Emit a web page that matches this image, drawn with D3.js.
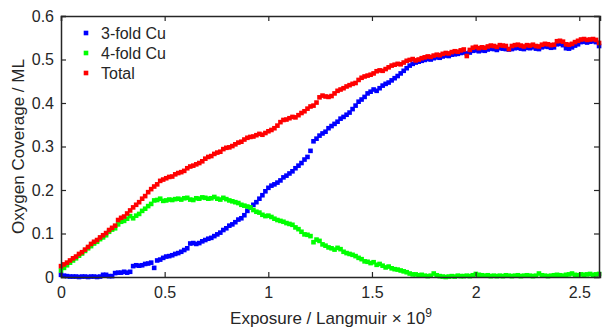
<!DOCTYPE html>
<html>
<head>
<meta charset="utf-8">
<script src="https://cdn.jsdelivr.net/npm/d3@7"></script>
<style>
  body { margin: 0; background: #fff; }
  svg text { font-family: "Liberation Sans", Arial, sans-serif; fill: #262626; }
</style>
</head>
<body>
<div id="chart"></div>
<script>
// exposure grid step (units of 10^9 L)
const step = 0.0145;

const threeFold = [
  0.005, 0.003, 0.002, 0.001, 0.001, 0.001, 0.000, 0.001, 0.001, 0.000,
  0.001, 0.001, 0.000, 0.001, 0.005, 0.005, 0.002, 0.002, 0.009, 0.010,
  0.010, 0.012, 0.010, 0.012, 0.025, 0.027, 0.026, 0.027, 0.030, 0.031,
  0.033, 0.021, 0.038, 0.040, 0.044, 0.047, 0.048, 0.050, 0.053, 0.055,
  0.058, 0.062, 0.066, 0.077, 0.078, 0.076, 0.078, 0.082, 0.085, 0.088,
  0.090, 0.094, 0.098, 0.102, 0.108, 0.112, 0.118, 0.121, 0.126, 0.132,
  0.135, 0.142, 0.152, 0.160, 0.166, 0.172, 0.180, 0.188, 0.197, 0.205,
  0.210, 0.213, 0.217, 0.222, 0.229, 0.233, 0.238, 0.243, 0.250, 0.256,
  0.262, 0.270, 0.276, 0.290, 0.312, 0.318, 0.325, 0.330, 0.334, 0.342,
  0.347, 0.352, 0.357, 0.364, 0.368, 0.373, 0.378, 0.386, 0.394, 0.403,
  0.408, 0.414, 0.422, 0.426, 0.431, 0.428, 0.434, 0.440, 0.444, 0.447,
  0.452, 0.457, 0.462, 0.468, 0.474, 0.480, 0.486, 0.490, 0.493, 0.495,
  0.497, 0.499, 0.501, 0.500, 0.503, 0.505, 0.504, 0.507, 0.509, 0.508,
  0.511, 0.512, 0.513, 0.515, 0.516, 0.514, 0.516, 0.520, 0.521, 0.519,
  0.521, 0.520, 0.523, 0.525, 0.524, 0.522, 0.526, 0.525, 0.524, 0.523,
  0.524, 0.526, 0.527, 0.525, 0.524, 0.527, 0.526, 0.528, 0.525, 0.524,
  0.528, 0.530, 0.529, 0.527, 0.528, 0.535, 0.536, 0.533, 0.526, 0.525,
  0.528, 0.532, 0.535, 0.540, 0.541, 0.539, 0.541, 0.542, 0.540, 0.531
];

const fourFold = [
  0.015, 0.021, 0.027, 0.033, 0.038, 0.043, 0.049, 0.054, 0.060, 0.066,
  0.071, 0.077, 0.081, 0.087, 0.091, 0.096, 0.104, 0.109, 0.112, 0.121,
  0.127, 0.129, 0.134, 0.140, 0.135, 0.141, 0.145, 0.152, 0.157, 0.163,
  0.168, 0.176, 0.177, 0.180, 0.175, 0.176, 0.178, 0.177, 0.179, 0.180,
  0.178, 0.181, 0.182, 0.178, 0.177, 0.181, 0.180, 0.183, 0.182, 0.180,
  0.181, 0.184, 0.180, 0.178, 0.182, 0.179, 0.176, 0.174, 0.172, 0.170,
  0.166, 0.164, 0.162, 0.160, 0.154, 0.150, 0.148, 0.143, 0.140, 0.141,
  0.138, 0.134, 0.131, 0.129, 0.127, 0.124, 0.122, 0.120, 0.114, 0.110,
  0.104, 0.098, 0.097, 0.094, 0.080, 0.086, 0.083, 0.075, 0.072, 0.068,
  0.066, 0.063, 0.067, 0.064, 0.058, 0.055, 0.053, 0.051, 0.048, 0.044,
  0.041, 0.036, 0.035, 0.032, 0.034, 0.028, 0.030, 0.026, 0.022, 0.024,
  0.020, 0.018, 0.017, 0.015, 0.013, 0.011, 0.008, 0.006, 0.006, 0.004,
  0.005, 0.003, 0.002, 0.003, 0.008, 0.004, 0.002, 0.001, 0.000, 0.001,
  0.002, 0.001, 0.003, 0.002, 0.002, 0.003, 0.002, 0.004, 0.007, 0.005,
  0.004, 0.003, 0.004, 0.002, 0.003, 0.002, 0.003, 0.002, 0.004, 0.003,
  0.002, 0.003, 0.004, 0.002, 0.003, 0.004, 0.003, 0.002, 0.003, 0.008,
  0.004, 0.003, 0.002, 0.003, 0.004, 0.005, 0.004, 0.003, 0.005, 0.006,
  0.008, 0.005, 0.004, 0.006, 0.005, 0.006, 0.007, 0.005, 0.006, 0.007
];

const total = [
  0.025, 0.029, 0.033, 0.038, 0.043, 0.047, 0.053, 0.057, 0.063, 0.069,
  0.076, 0.081, 0.085, 0.091, 0.096, 0.101, 0.108, 0.113, 0.118, 0.131,
  0.136, 0.139, 0.146, 0.153, 0.160, 0.166, 0.172, 0.180, 0.186, 0.195,
  0.202, 0.208, 0.213, 0.221, 0.224, 0.227, 0.230, 0.231, 0.236, 0.239,
  0.241, 0.244, 0.250, 0.254, 0.256, 0.259, 0.262, 0.266, 0.272, 0.276,
  0.278, 0.283, 0.286, 0.288, 0.294, 0.297, 0.298, 0.301, 0.305, 0.309,
  0.311, 0.316, 0.320, 0.322, 0.323, 0.326, 0.329, 0.327, 0.331, 0.335,
  0.338, 0.342, 0.348, 0.356, 0.361, 0.362, 0.365, 0.368, 0.367, 0.372,
  0.377, 0.381, 0.387, 0.392, 0.394, 0.401, 0.413, 0.417, 0.415, 0.414,
  0.416, 0.422, 0.428, 0.431, 0.434, 0.438, 0.441, 0.444, 0.446, 0.453,
  0.458, 0.461, 0.463, 0.465, 0.468, 0.473, 0.475, 0.474, 0.478, 0.482,
  0.486, 0.488, 0.490, 0.489, 0.493, 0.497, 0.499, 0.501, 0.498, 0.500,
  0.503, 0.505, 0.507, 0.506, 0.509, 0.511, 0.510, 0.513, 0.515, 0.514,
  0.517, 0.519, 0.518, 0.521, 0.523, 0.508, 0.522, 0.527, 0.529, 0.526,
  0.528, 0.527, 0.530, 0.532, 0.531, 0.529, 0.533, 0.532, 0.531, 0.524,
  0.531, 0.533, 0.534, 0.532, 0.530, 0.533, 0.532, 0.534, 0.531, 0.530,
  0.534, 0.536, 0.535, 0.533, 0.534, 0.542, 0.543, 0.541, 0.535, 0.534,
  0.536, 0.540, 0.543, 0.546, 0.547, 0.545, 0.546, 0.547, 0.545, 0.538
];

const seriesNames = ["3-fold Cu", "4-fold Cu", "Total"];
const seriesColors = ["#0000ff", "#00ff00", "#ff0000"];
const xTicks = [0, 0.5, 1, 1.5, 2, 2.5];
const yTicks = [0, 0.1, 0.2, 0.3, 0.4, 0.5, 0.6];

const width = 602, height = 328;
const margin = { top: 16, right: 2, bottom: 51, left: 61 };

const svg = d3.select("#chart").append("svg")
  .attr("width", width)
  .attr("height", height);

const x = d3.scaleLinear().domain([0, 2.6]).range([margin.left, width - margin.right]);
const y = d3.scaleLinear().domain([0, 0.6]).range([height - margin.bottom, margin.top]);

const exposure = threeFold.map((d, i) => i * step);
const series = [threeFold, fourFold, total].map((vals, k) => ({
  name: seriesNames[k],
  color: seriesColors[k],
  points: vals.map((v, i) => ({ x: exposure[i], y: v }))
}));

// markers
const ms = 4.6;
svg.append("g")
  .selectAll("g")
  .data(series)
  .join("g")
  .attr("fill", d => d.color)
  .selectAll("rect")
  .data(d => d.points)
  .join("rect")
  .attr("x", d => x(d.x) - ms / 2)
  .attr("y", d => y(d.y) - ms / 2)
  .attr("width", ms)
  .attr("height", ms);

// axes, MATLAB style: ticks inside, full box
const axisColor = "#262626";
const tickLen = 5;

const xAxis = svg.append("g")
  .attr("transform", `translate(0,${y(0)})`)
  .call(d3.axisBottom(x).tickValues(xTicks).tickSize(-tickLen).tickPadding(10).tickFormat(d3.format("")));
const yAxis = svg.append("g")
  .attr("transform", `translate(${x(0)},0)`)
  .call(d3.axisLeft(y).tickValues(yTicks).tickSize(-tickLen).tickPadding(7).tickFormat(d3.format("")));
const xTop = svg.append("g")
  .attr("transform", `translate(0,${y(0.6)})`)
  .call(d3.axisTop(x).tickValues(xTicks).tickSize(-tickLen).tickFormat(""));
const yRight = svg.append("g")
  .attr("transform", `translate(${x(2.6) - 1},0)`)
  .call(d3.axisRight(y).tickValues(yTicks).tickSize(-tickLen).tickFormat(""));

[xAxis, yAxis, xTop, yRight].forEach(g => {
  g.select(".domain").attr("stroke", axisColor).attr("stroke-width", 1.5);
  g.selectAll(".tick line").attr("stroke", axisColor).attr("stroke-width", 1.2);
  g.selectAll(".tick text")
    .attr("font-size", 16)
    .attr("font-family", "Liberation Sans, Arial, sans-serif")
    .attr("fill", axisColor);
});

// axis labels
const xl = svg.append("text")
  .attr("x", 331)
  .attr("y", 324)
  .attr("text-anchor", "middle")
  .attr("font-size", 17);
xl.append("tspan").text("Exposure / Langmuir \u00d7 10");
xl.append("tspan").attr("dy", -7).attr("font-size", 12).text("9");

svg.append("text")
  .attr("transform", `translate(24,${(y(0) + y(0.6)) / 2}) rotate(-90)`)
  .attr("text-anchor", "middle")
  .attr("font-size", 17)
  .text("Oxygen Coverage / ML");

// legend
const legend = svg.append("g")
  .selectAll("g")
  .data(series)
  .join("g")
  .attr("transform", (d, i) => `translate(86,${33 + i * 20})`);
legend.append("rect")
  .attr("x", -ms / 2).attr("y", -ms / 2)
  .attr("width", ms).attr("height", ms)
  .attr("fill", d => d.color);
legend.append("text")
  .attr("x", 15)
  .attr("y", 5.5)
  .attr("font-size", 16)
  .text(d => d.name);
</script>
</body>
</html>
